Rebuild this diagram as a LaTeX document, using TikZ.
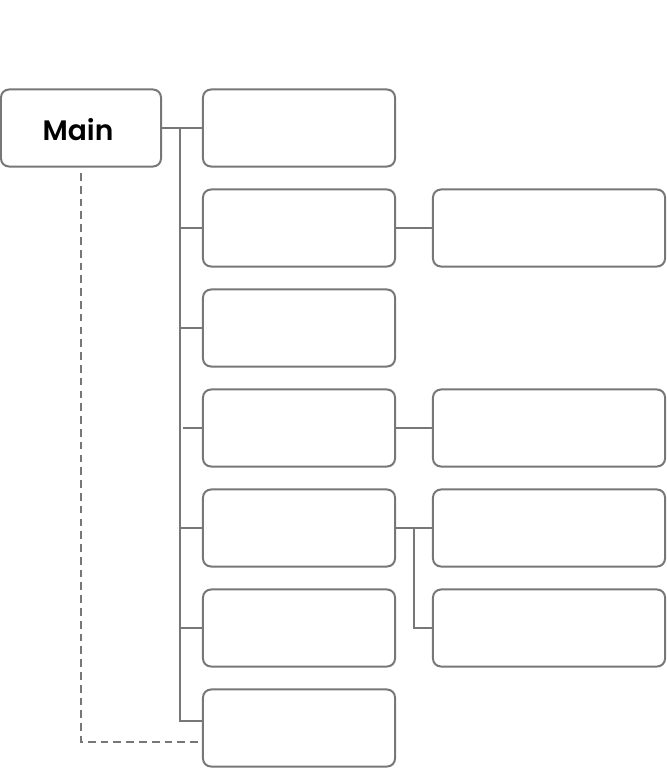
\documentclass[tikz,border=0pt]{standalone}
\usepackage{fontspec}
\setmainfont{Poppins}[UprightFont=* SemiBold]
\usepackage{xcolor}
\usepackage{tikz}
\usetikzlibrary{positioning}
\definecolor{edgegray}{HTML}{777777}
\tikzset{box/.style={rectangle,rounded corners=0.2cm,draw=edgegray,line width=0.05cm,minimum height=1.925cm,minimum width=4.8cm,inner sep=0,outer sep=0},
  mainbox/.style={box,minimum width=4cm},
  widebox/.style={box,minimum width=5.8cm},
  link/.style={draw=edgegray,line width=0.05cm},
  dash line/.style={link,dash pattern=on 5.5pt off 3.6pt}}

\begin{document}
\begin{tikzpicture}[x=0.025cm,y=-0.025cm]
    \useasboundingbox (0,0) rectangle (666,768);
    \node[mainbox,font=\fontsize{20}{24}\selectfont,text depth=0pt] (main) at (81,128) {};
    \node (maintext) at (78,130) [font=\fontsize{20}{24}\selectfont,inner sep=0] {Main};
    \node[box] (b1) at (299,128) {};
    \node[box] (b2) at (299,228) {};
    \node[box] (b3) at (299,328) {};
    \node[box] (b4) at (299,428) {};
    \node[box] (b5) at (299,528) {};
    \node[box] (b6) at (299,628) {};
    \node[box] (b7) at (299,728) {};
    \node[widebox] (c2) at (549,228) {};
    \node[widebox] (c4) at (549,428) {};
    \node[widebox] (c5) at (549,528) {};
    \node[widebox] (c6) at (549,628) {};

    \coordinate (top) at (180,128);
    \coordinate (bot) at (180,721);
    \coordinate (gap) at (183,428);
    \coordinate (fork) at (414,528);
    \coordinate (dstart) at (81,173);
    \coordinate (dcorner) at (81,742);

    \draw [link] (main.east) -- (b1.west);
    \draw [link] (top) -- (bot) -- (bot -| b7.west);
    \draw [link] (top |- b2) -- (b2.west);
    \draw [link] (top |- b3) -- (b3.west);
    \draw [link] (gap) -- (b4.west);
    \draw [link] (top |- b5) -- (b5.west);
    \draw [link] (top |- b6) -- (b6.west);
    \draw [link] (b2.east) -- (c2.west);
    \draw [link] (b4.east) -- (c4.west);
    \draw [link] (b5.east) -- (c5.west);
    \draw [link] (fork) -- (fork |- c6) -- (c6.west);
    \draw [dash line] (dstart) -- (dcorner) -- (dcorner -| b7.west);
\end{tikzpicture}
\end{document}
